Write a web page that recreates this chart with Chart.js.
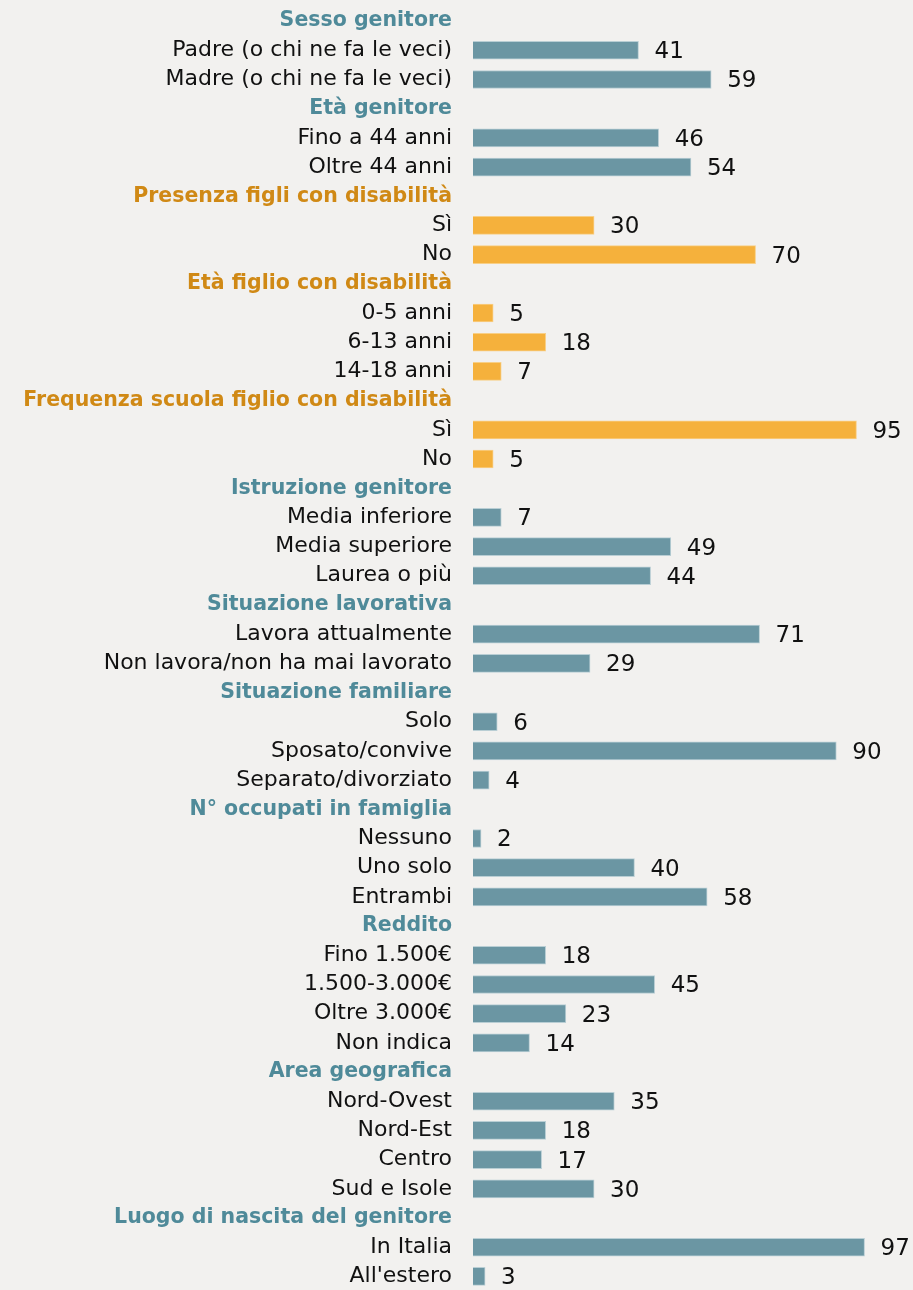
<!DOCTYPE html>
<html>
<head>
<meta charset="utf-8">
<script src="https://cdn.jsdelivr.net/npm/chart.js@4.4.1/dist/chart.umd.min.js"></script>
<style>
  html, body { margin: 0; padding: 0; background: #f2f1ef; overflow: hidden; }
  #wrap { position: absolute; left: 0; top: 0; width: 913px; height: 1291px; }
</style>
</head>
<body>
<div id="wrap"><canvas id="profileChart"></canvas></div>
<script>
// Section headers and how many rows each one holds
const sections = [
    'Sesso genitore', 'Età genitore', 'Presenza figli con disabilità',
    'Età figlio con disabilità', 'Frequenza scuola figlio con disabilità',
    'Istruzione genitore', 'Situazione lavorativa', 'Situazione familiare',
    'N° occupati in famiglia', 'Reddito', 'Area geografica',
    'Luogo di nascita del genitore'
];
const sectionSizes = [2, 2, 2, 3, 2, 3, 2, 3, 3, 4, 4, 2];
const orangeSections = [
    'Presenza figli con disabilità', 'Età figlio con disabilità',
    'Frequenza scuola figlio con disabilità'
];

const itemLabels = [
    'Padre (o chi ne fa le veci)', 'Madre (o chi ne fa le veci)',
    'Fino a 44 anni', 'Oltre 44 anni',
    'Sì', 'No',
    '0-5 anni', '6-13 anni', '14-18 anni',
    'Sì', 'No',
    'Media inferiore', 'Media superiore', 'Laurea o più',
    'Lavora attualmente', 'Non lavora/non ha mai lavorato',
    'Solo', 'Sposato/convive', 'Separato/divorziato',
    'Nessuno', 'Uno solo', 'Entrambi',
    'Fino 1.500€', '1.500-3.000€', 'Oltre 3.000€', 'Non indica',
    'Nord-Ovest', 'Nord-Est', 'Centro', 'Sud e Isole',
    'In Italia', "All'estero"
];
const itemValues = [
    41, 59,
    46, 54,
    30, 70,
    5, 18, 7,
    95, 5,
    7, 49, 44,
    71, 29,
    6, 90, 4,
    2, 40, 58,
    18, 45, 23, 14,
    35, 18, 17, 30,
    97, 3
];

const colors = {
    bar: '#6b96a3',
    barEdge: '#b9ced4',
    orange: '#f5b13c',
    orangeEdge: '#f8cf86',
    header: '#4f8a99',
    headerOrange: '#d08915',
    text: '#111111'
};

// Flatten sections + items into chart rows
const rowLabels = [];
const rowValues = [];
const rowIsHeader = [];
const rowIsOrange = [];
let k = 0;
sections.forEach((name, s) => {
    const orange = orangeSections.includes(name);
    rowLabels.push(name); rowValues.push(null); rowIsHeader.push(true); rowIsOrange.push(orange);
    for (let i = 0; i < sectionSizes[s]; i++) {
        rowLabels.push(itemLabels[k]); rowValues.push(itemValues[k]);
        rowIsHeader.push(false); rowIsOrange.push(orange);
        k++;
    }
});

const valueLabels = {
    id: 'valueLabels',
    afterDatasetsDraw(chart) {
        const ctx = chart.ctx;
        const meta = chart.getDatasetMeta(0);
        ctx.save();
        ctx.font = '23px "DejaVu Sans"';
        ctx.fillStyle = colors.text;
        ctx.textBaseline = 'middle';
        ctx.textAlign = 'left';
        meta.data.forEach((bar, i) => {
            const v = rowValues[i];
            if (v === null) return;
            ctx.fillText(String(v), bar.x + 16, bar.y + 2);
        });
        ctx.restore();
    }
};

new Chart(document.getElementById('profileChart').getContext('2d'), {
    type: 'bar',
    data: {
        labels: rowLabels,
        datasets: [{
            data: rowValues,
            backgroundColor: rowIsOrange.map(o => o ? colors.orange : colors.bar),
            borderColor: rowIsOrange.map(o => o ? colors.orangeEdge : colors.barEdge),
            borderWidth: 1,
            barThickness: 18
        }]
    },
    options: {
        indexAxis: 'y',
        responsive: true,
        maintainAspectRatio: false,
        animation: false,
        layout: { padding: { top: 6.5, bottom: 0, left: 0, right: 0 } },
        plugins: { legend: { display: false }, tooltip: { enabled: false } },
        scales: {
            x: { display: false, min: 0, max: 109 },
            y: {
                grid: { display: false },
                border: { display: false },
                afterFit(scale) {
                    scale.width = 473;
                    // rows fill the full height, no extra room for labels
                    scale.paddingTop = 0;
                    scale.paddingBottom = 0;
                },
                ticks: {
                    autoSkip: false,
                    padding: 13,
                    color: (c) => rowIsHeader[c.index]
                        ? (rowIsOrange[c.index] ? colors.headerOrange : colors.header)
                        : colors.text,
                    font: (c) => rowIsHeader[c.index]
                        ? { family: '"DejaVu Sans"', size: 20.5, weight: 'bold' }
                        : { family: '"DejaVu Sans"', size: 22 }
                }
            }
        }
    },
    plugins: [valueLabels]
});
</script>
</body>
</html>
